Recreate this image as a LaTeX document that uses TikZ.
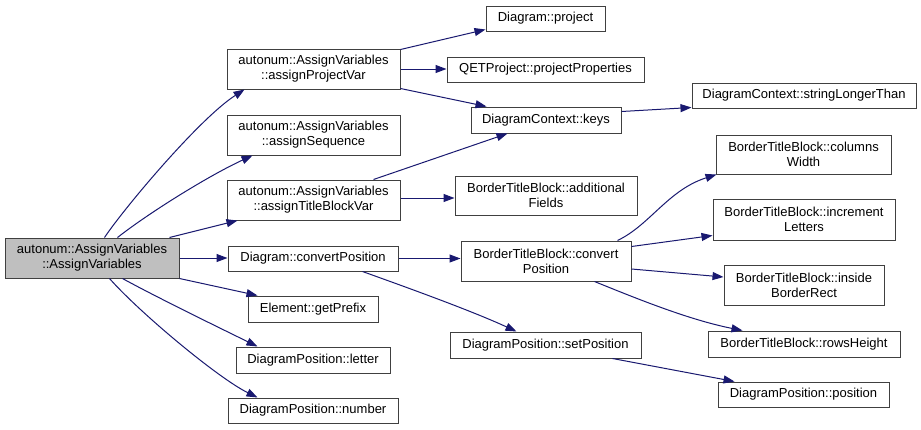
\documentclass[tikz,border=0pt]{standalone}
\usepackage{fontspec}
\setmainfont{Liberation Sans}
\usetikzlibrary{arrows.meta,calc}
\definecolor{edgeblue}{HTML}{191970}
\definecolor{boxline}{HTML}{404040}
\definecolor{mainfill}{HTML}{BFBFBF}
\tikzset{
  box/.style={draw=boxline, line width=1pt, rectangle, inner sep=0pt, align=center,
    font=\fontsize{13}{15}\selectfont, text=black},
  edge/.style={draw=edgeblue, line width=1pt, -{Triangle[length=11pt,width=8pt]}},
}
\begin{document}
\begin{tikzpicture}[x=1pt,y=-1pt]
\useasboundingbox[fill=white] (0,0) rectangle (921,429);
% nodes
\node[box, fill=mainfill, minimum width=174pt, minimum height=40pt] (main) at (92,258) {autonum::AssignVariables\\::AssignVariables};
\node[box, minimum width=173pt, minimum height=40pt] (apv) at (313.5,69) {autonum::AssignVariables\\::assignProjectVar};
\node[box, minimum width=173pt, minimum height=40pt] (aseq) at (313.5,135) {autonum::AssignVariables\\::assignSequence};
\node[box, minimum width=173pt, minimum height=40pt] (atbv) at (313.5,200) {autonum::AssignVariables\\::assignTitleBlockVar};
\node[box, minimum width=170pt, minimum height=25pt] (dcp) at (313,258.5) {Diagram::convertPosition};
\node[box, minimum width=130pt, minimum height=26pt] (gpf) at (313,309) {Element::getPrefix};
\node[box, minimum width=154pt, minimum height=26pt] (let) at (313,360) {DiagramPosition::letter};
\node[box, minimum width=170pt, minimum height=25pt] (num) at (313,410.5) {DiagramPosition::number};
\node[box, minimum width=119pt, minimum height=25pt] (proj) at (545.5,18.5) {Diagram::project};
\node[box, minimum width=197pt, minimum height=25pt] (qet) at (545.5,69.5) {QETProject::projectProperties};
\node[box, minimum width=150pt, minimum height=26pt] (keys) at (546,120) {DiagramContext::keys};
\node[box, minimum width=224pt, minimum height=25pt] (slt) at (804,95.5) {DiagramContext::stringLongerThan};
\node[box, minimum width=182pt, minimum height=39pt] (af) at (546,195.5) {BorderTitleBlock::additional\\Fields};
\node[box, minimum width=170pt, minimum height=40pt] (btbc) at (546,261) {BorderTitleBlock::convert\\Position};
\node[box, minimum width=191pt, minimum height=26pt] (setp) at (545.5,345) {DiagramPosition::setPosition};
\node[box, minimum width=175pt, minimum height=39pt] (cw) at (803.5,154.5) {BorderTitleBlock::columns\\Width};
\node[box, minimum width=182pt, minimum height=41pt] (il) at (804,219.5) {BorderTitleBlock::increment\\Letters};
\node[box, minimum width=160pt, minimum height=40pt] (ibr) at (804,285) {BorderTitleBlock::inside\\BorderRect};
\node[box, minimum width=192pt, minimum height=26pt] (rh) at (804,344) {BorderTitleBlock::rowsHeight};
\node[box, minimum width=171pt, minimum height=25pt] (pos) at (803.5,394.5) {DiagramPosition::position};
% edges from main
\draw[edge] ($(main.north west)+(100,0)$) .. controls (125,207) and (200,118) .. ($(apv.south west)+(18,0)$);
\draw[edge] ($(main.north west)+(113,0)$) .. controls (150,212) and (210,175) .. ($(aseq.south west)+(26,0)$);
\draw[edge] ($(main.north west)+(165,0)$) -- ($(atbv.south west)+(11,0)$);
\draw[edge] (main.east) -- (main.east -| dcp.west);
\draw[edge] (main.south east) -- ($(gpf.north west)+(10,0)$);
\draw[edge] ($(main.south west)+(118,0)$) .. controls (158,298) and (228,332) .. ($(let.north west)+(22,0)$);
\draw[edge] ($(main.south west)+(105,0)$) .. controls (140,313) and (218,378) .. ($(num.north west)+(30,0)$);
% assignProjectVar
\draw[edge] ($(apv.north east)+(0,1)$) -- ($(proj.south west)+(0,-2)$);
\draw[edge] (apv.east) -- (apv.east -| qet.west);
\draw[edge] ($(apv.south east)+(0,-1)$) -- ($(keys.north west)+(16,0)$);
% keys
\draw[edge] ($(keys.north east)+(0,5)$) -- ($(slt.south west)+(0,-1)$);
% assignTitleBlockVar
\draw[edge] ($(atbv.north east)+(-27,0)$) -- ($(keys.south west)+(37,0)$);
\draw[edge] ($(atbv.east)+(0,-2)$) -- ($(af.west)+(0,2.5)$);
% convertPosition
\draw[edge] (dcp.east) -- (dcp.east -| btbc.west);
\draw[edge] ($(dcp.south east)+(-36,0)$) .. controls (400,285) and (470,310) .. ($(setp.north west)+(67,0)$);
% BorderTitleBlock::convertPosition
\draw[edge] ($(btbc.north east)+(-14,0)$) .. controls (650,225) and (668,190) .. ($(cw.south west)+(1,0)$);
\draw[edge] ($(btbc.north east)+(0,6)$) -- ($(il.south west)+(0,-5)$);
\draw[edge] ($(btbc.east)+(0,8)$) -- ($(ibr.west)+(0,-8)$);
\draw[edge] ($(btbc.south west)+(134,0)$) .. controls (640,300) and (690,320) .. ($(rh.north west)+(35,0)$);
% setPosition
\draw[edge] ($(setp.south west)+(163,0)$) -- ($(pos.north west)+(17,0)$);
\end{tikzpicture}
\end{document}
